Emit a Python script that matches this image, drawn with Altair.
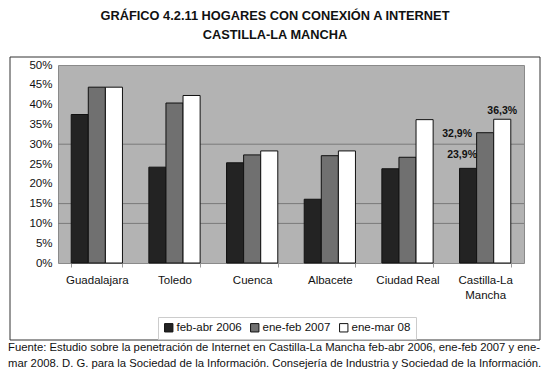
import altair as alt
import pandas as pd

categories = ["Guadalajara", "Toledo", "Cuenca", "Albacete", "Ciudad Real", "Castilla-La Mancha"]
series = ["feb-abr 2006", "ene-feb 2007", "ene-mar 08"]
v2006 = [37.5, 24.2, 25.3, 16.1, 23.8, 23.9]
v2007 = [44.4, 40.4, 27.3, 27.1, 26.7, 32.9]
v2008 = [44.4, 42.3, 28.3, 28.3, 36.2, 36.3]
colors = ["#232323", "#707070", "#ffffff"]
title_lines = ["GRÁFICO 4.2.11 HOGARES CON CONEXIÓN A INTERNET", "CASTILLA-LA MANCHA"]
footer_lines = [
    "Fuente: Estudio sobre la penetración de Internet en Castilla-La Mancha feb-abr 2006, ene-feb 2007 y ene-",
    "mar 2008. D. G. para la Sociedad de la Información. Consejería de Industria y Sociedad de la Información.",
]
gridvals = [10, 15, 30]

rows = []
for i, c in enumerate(categories):
    for s, vals in zip(series, [v2006, v2007, v2008]):
        rows.append({"cat": c, "serie": s, "val": vals[i],
                     "lab": f"{vals[i]:.1f}%".replace(".", ",")})
df = pd.DataFrame(rows)

FONT = "Liberation Sans"
W, H = 466, 198
yscale = alt.Scale(domain=[0, 50], nice=False)

x = alt.X("cat:N", sort=categories, title=None,
          scale=alt.Scale(paddingInner=0.34, paddingOuter=0.17),
          axis=alt.Axis(labelAngle=0, labelFontSize=11.5, labelColor="#111", labelFont=FONT,
                        labelPadding=7, tickBand="extent", tickSize=4, tickColor="#999",
                        domain=False, labelLineHeight=15,
                        labelExpr="datum.label == 'Castilla-La Mancha' ? ['Castilla-La', 'Mancha'] : datum.label"))
yaxis = alt.Axis(values=list(range(0, 51, 5)), labelExpr="datum.value + '%'",
                 labelFontSize=11.5, labelColor="#111", labelFont=FONT, labelPadding=6,
                 labelOverlap=False, ticks=False, domain=False, grid=False)
y = alt.Y("val:Q", title=None, scale=yscale, axis=yaxis)

base = alt.Chart(df)

grid = alt.Chart(pd.DataFrame({"val": gridvals})).mark_rule(color="#7a7a7a", strokeWidth=1).encode(y=y)

bars = base.mark_bar(stroke="#111", strokeWidth=1).encode(
    x=x, y=y,
    xOffset=alt.XOffset("serie:N", sort=series, scale=alt.Scale(paddingInner=0, paddingOuter=0)),
    color=alt.Color("serie:N", sort=series,
                    scale=alt.Scale(domain=series, range=colors),
                    legend=alt.Legend(title=None, orient="none", direction="horizontal",
                                      legendX=100, legendY=252, symbolType="square",
                                      symbolSize=70, symbolStrokeColor="#111", symbolStrokeWidth=1,
                                      labelFontSize=11.5, labelFont=FONT, labelColor="#111",
                                      strokeColor="#cccccc", padding=5, columnPadding=6,
                                      labelOffset=2, fillColor="white")),
)

def lab(serie, dx, dy):
    return base.transform_filter(
        (alt.datum.cat == "Castilla-La Mancha") & (alt.datum.serie == serie)
    ).mark_text(fontWeight="bold", fontSize=10.5, font=FONT, dx=dx, dy=dy,
                baseline="middle", color="#111").encode(
        x=alt.X("cat:N", sort=categories),
        xOffset=alt.XOffset("serie:N", sort=series),
        y=y, text="lab:N")

l1 = lab(series[0], -6, -13)
l2 = lab(series[1], -28, 1)
l3 = lab(series[2], 0, -8)

frame = alt.Chart(pd.DataFrame({"a": [0]})).mark_rect(fill=None, stroke="#333", strokeWidth=1).encode(
    x=alt.value(-48), x2=alt.value(482), y=alt.value(-8), y2=alt.value(275))

def foot(i, ypos):
    return alt.Chart(pd.DataFrame({"t": [footer_lines[i]]})).mark_text(
        align="left", baseline="middle", fontSize=11.3, font=FONT, color="#111").encode(
        x=alt.value(-50), y=alt.value(ypos), text="t:N")

chart = alt.layer(frame, grid, bars, l1, l2, l3, foot(0, 283), foot(1, 299)).properties(
    width=W, height=H,
    autosize=alt.AutoSizeParams(type="none"),
    padding={"left": 50, "top": 57, "right": 18, "bottom": 107},
    background="white",
    title=alt.TitleParams(title_lines, fontSize=12.8, font=FONT, fontWeight="bold", color="#111",
                          anchor="middle", dx=-16, offset=15, lineHeight=19),
).configure_view(fill="#b3b3b3", stroke="#8a8a8a")

chart.save("out.html", embed_options={"renderer": "svg", "actions": False})
